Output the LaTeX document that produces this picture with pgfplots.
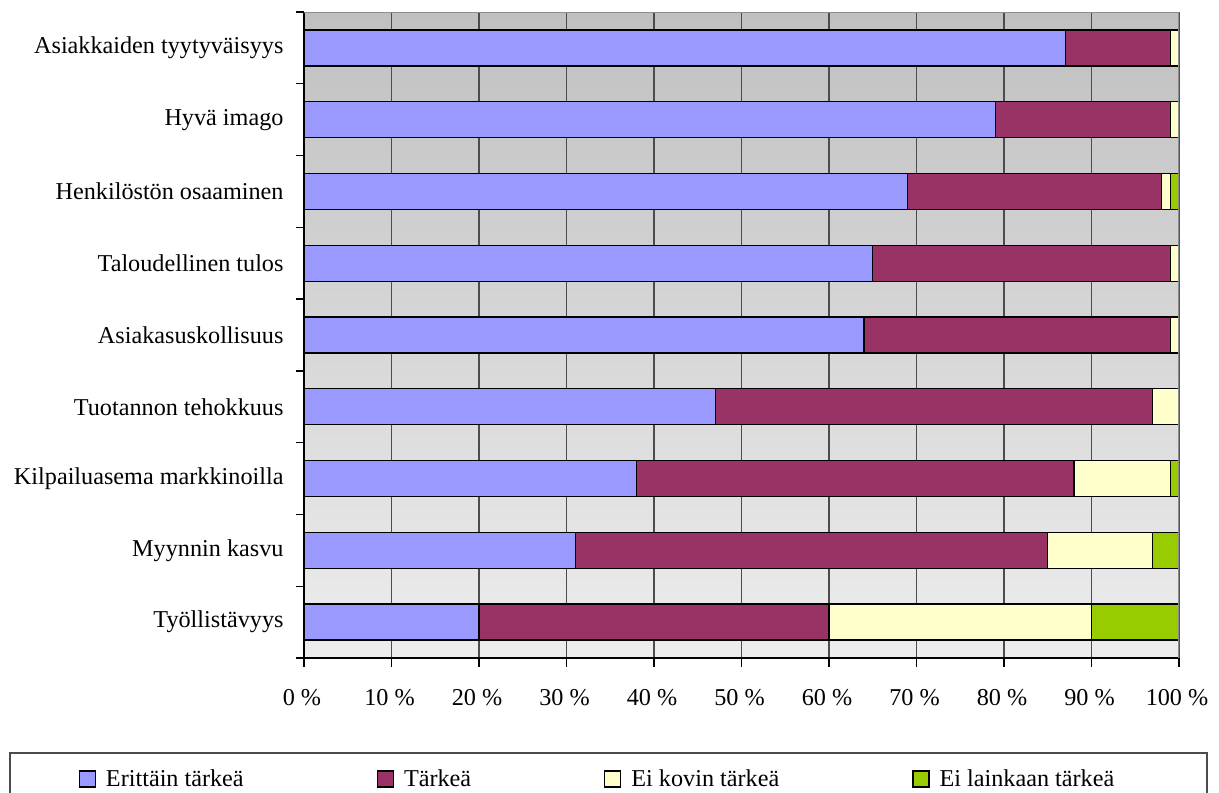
\documentclass[border=0pt]{standalone}
\usepackage{pgfplots}
\usepackage{pgfplotstable}
\pgfplotsset{compat=1.18}
\usepackage{fontspec}
\setmainfont{Liberation Serif}

\newcommand\chartfont{\fontsize{24.2bp}{29bp}\selectfont}

\definecolor{cErittain}{RGB}{153,153,255}
\definecolor{cTarkea}{RGB}{153,51,102}
\definecolor{cEiKovin}{RGB}{255,255,204}
\definecolor{cEiLainkaan}{RGB}{153,204,0}
\definecolor{bgTop}{RGB}{192,192,192}
\definecolor{bgBottom}{RGB}{237,237,237}

% Shares of answers (%) per factor, rows listed top to bottom
\pgfplotstableread{
row e  t  k  l
0   87 12 1  0
1   79 20 1  0
2   69 29 1  1
3   65 34 1  0
4   64 35 1  0
5   47 50 3  0
6   38 50 11 1
7   31 54 12 3
8   20 40 30 10
}\shares

\begin{document}
\begin{tikzpicture}
\path[use as bounding box] (0,0) rectangle (1219bp,793bp);
\clip (0,0) rectangle (1219bp,793bp);
% legend frame
\draw[black!70, line width=1.3bp] (10bp,-10bp) rectangle (1207bp,40bp);
\begin{axis}[
  at={(304bp,135bp)}, anchor=south west,
  scale only axis, width=875bp, height=646bp,
  xbar stacked, bar width=36bp,
  legend image code/.code={\draw[#1, draw=black, line width=1.3bp] (0bp,-8bp) rectangle (16bp,8bp);},
  xmin=0, xmax=100, ymin=-0.5, ymax=8.5, y dir=reverse,
  axis x line*=bottom, axis y line*=left,
  axis line style={-, black, line width=1.5bp},
  tick align=outside, major tick length=8.5bp,
  tick style={black, line width=1.3bp},
  xtick={0,10,...,100},
  xticklabels={0 \%,10 \%,20 \%,30 \%,40 \%,50 \%,60 \%,70 \%,80 \%,90 \%,100 \%},
  xticklabel style={yshift=-19bp, xshift=-2bp},
  ytick={-0.5,0.5,...,8.5}, yticklabels={},
  extra y ticks={0,1,...,8},
  extra y tick labels={Asiakkaiden tyytyväisyys,Hyvä imago,Henkilöstön osaaminen,Taloudellinen tulos,Asiakasuskollisuus,Tuotannon tehokkuus,Kilpailuasema markkinoilla,Myynnin kasvu,Työllistävyys},
  extra y tick style={major tick length=0pt, yticklabel style={xshift=-17bp}},
  tick label style={font=\chartfont},
  xmajorgrids, grid style={draw=black!70, line width=1.3bp},
  axis background/.style={shade, top color=bgTop, bottom color=bgBottom},
  every axis plot/.append style={draw=black, line width=1.3bp},
  legend columns=4,
  legend style={draw=none, fill=none, font=\chartfont,
    at={(axis description cs:0.3354,-0.1873)}, anchor=center,
    /tikz/every odd column/.append style={column sep=8bp},
    /tikz/every even column/.append style={column sep=131bp}},
]
% upper and right frame
\draw[black!45, line width=1.5bp] (rel axis cs:0,1) -- (rel axis cs:1,1) -- (rel axis cs:1,0);
\addplot[fill=cErittain] table[x=e, y=row] {\shares};
\addplot[fill=cTarkea] table[x=t, y=row] {\shares};
\addplot[fill=cEiKovin] table[x=k, y=row] {\shares};
\addplot[fill=cEiLainkaan] table[x=l, y=row] {\shares};
\legend{Erittäin tärkeä,Tärkeä,Ei kovin tärkeä,Ei lainkaan tärkeä}
\end{axis}
\end{tikzpicture}
\end{document}
